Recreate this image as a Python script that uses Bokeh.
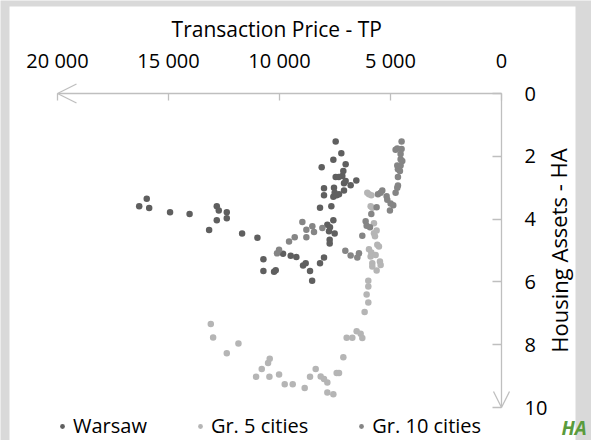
from bokeh.plotting import figure
from bokeh.models import (Range1d, FixedTicker, Legend, LegendItem, Label,
                          Arrow, OpenHead, ColumnDataSource, BoxAnnotation)
from bokeh.embed import file_html
from bokeh.resources import INLINE

# ---------------- data ----------------
warsaw_tp = [15980, 16320, 15870, 14930, 14050, 12825, 12735, 12375, 12375, 12825,
             13170, 11685, 10995, 10725, 10725, 10245, 10170, 9840, 9495, 9240,
             8940, 8820, 8625, 8530, 8175, 7995, 7740, 7740, 7770, 7515,
             7575, 7845, 7725, 7665, 8175, 7995, 7995, 7575, 7515, 7425,
             7320, 7095, 7545, 7095, 6795, 6540, 7020, 7170, 7470, 7335,
             7125, 7020, 8100, 7575, 7215, 7470]
warsaw_ha = [3.35, 3.59, 3.65, 3.78, 3.84, 3.59, 3.73, 3.78, 3.97, 4.04,
             4.35, 4.46, 4.59, 5.28, 5.65, 5.68, 5.63, 5.10, 5.17, 5.21,
             5.48, 5.41, 5.65, 5.96, 5.41, 5.22, 4.66, 4.78, 4.39, 4.46,
             4.04, 4.18, 4.26, 3.59, 3.64, 3.02, 3.24, 3.29, 3.16, 3.24,
             3.21, 3.09, 3.00, 2.86, 2.92, 2.77, 2.79, 2.63, 2.66, 2.66,
             2.47, 2.25, 2.35, 2.11, 1.90, 1.53]

gr5_tp = [6045, 5970, 5865, 5895, 5820, 5745, 5625, 5745, 5700, 5970,
          5865, 5895, 5595, 5520, 5670, 5820, 5820, 5625, 5475, 5445,
          6000, 6000, 6075, 6000, 6165, 6525, 6345, 6270, 6975, 6720,
          7125, 7320, 7425, 7845, 7995, 8145, 8370, 8625, 8865, 7845,
          7575, 9405, 9765, 10020, 10455, 11055, 10800, 10515, 10440, 12375,
          11850, 12990, 13095]
gr5_ha = [3.16, 3.21, 3.24, 3.59, 3.64, 4.13, 4.36, 4.45, 4.55, 4.96,
          5.06, 5.19, 4.82, 4.87, 5.14, 5.41, 5.51, 5.64, 5.35, 5.46,
          5.96, 6.15, 6.40, 6.66, 6.96, 7.57, 7.65, 7.79, 7.78, 7.78,
          8.40, 8.90, 8.90, 9.20, 9.09, 9.01, 8.77, 9.02, 9.38, 9.52,
          9.58, 9.26, 9.26, 8.95, 9.02, 9.02, 8.77, 8.58, 8.45, 8.27,
          7.96, 7.77, 7.34]

gr10_tp = [4500, 4695, 4770, 4500, 4545, 4545, 4470, 4695, 4545, 4620,
           4665, 4575, 4665, 4665, 4695, 4770, 5370, 5565, 5445, 5175,
           5145, 4995, 4875, 5025, 5625, 5865, 6120, 6075, 5925, 6270,
           7035, 6795, 6495, 6420, 8070, 8970, 8790, 8520, 8445, 8790,
           9315, 9570, 10020, 10110]
gr10_ha = [1.53, 1.75, 1.79, 1.77, 1.93, 2.09, 2.15, 2.29, 2.29, 2.36,
           2.41, 2.47, 2.66, 2.93, 3.00, 3.16, 3.09, 3.21, 3.16, 3.27,
           3.38, 3.50, 3.56, 3.73, 3.62, 3.84, 4.07, 4.21, 4.26, 4.53,
           5.01, 5.16, 5.22, 5.09, 4.28, 4.09, 4.34, 4.23, 4.41, 4.58,
           4.58, 4.71, 4.98, 5.09]

series_names = ["Warsaw", "Gr. 5 cities", "Gr. 10 cities"]
series_colors = ["#5f5f5f", "#b5b5b5", "#858585"]

x_max, y_max = 20000, 10
x_ticks = [0, 5000, 10000, 15000, 20000]
x_tick_labels = ["0", "5 000", "10 000", "15 000", "20 000"]
y_ticks = [0, 2, 4, 6, 8, 10]
x_title = "Transaction Price  - TP"
y_title = "Housing Assets - HA"
corner_text = "HA"

FONT = "Open Sans"
AX = "#bfbfbf"
GREY = "#d9d9d9"

W, H = 591, 440
# frame covers the whole figure; axes are drawn at fixed data locations
X_LEFT_PX, X_RIGHT_PX = 57, 501      # pixel positions of 20000 and 0
Y_TOP_PX, Y_BOT_PX = 93, 407         # pixel positions of 0 and 10
ux = x_max / (X_RIGHT_PX - X_LEFT_PX)    # data units per pixel
uy = y_max / (Y_BOT_PX - Y_TOP_PX)


def xpx(px):
    return x_max - (px - X_LEFT_PX) * ux


def ypx(py):
    return (py - Y_TOP_PX) * uy


p = figure(width=W, height=H, output_backend="svg", toolbar_location=None,
           x_axis_location="above", y_axis_location="right",
           x_range=Range1d(xpx(0), xpx(W)), y_range=Range1d(ypx(H), ypx(0)),
           min_border=0, min_border_left=0, min_border_right=0,
           min_border_top=0, min_border_bottom=0)
p.outline_line_color = None
p.background_fill_color = GREY
p.border_fill_color = GREY
p.xgrid.visible = False
p.ygrid.visible = False

# white chart panel
p.add_layout(BoxAnnotation(left=xpx(9), right=xpx(575), top=ypx(6),
                           bottom=ypx(H + 5), fill_color="white",
                           fill_alpha=1, line_color=None, level="underlay"))

xa = p.xaxis[0]
xa.ticker = FixedTicker(ticks=x_ticks)
xa.major_label_overrides = {t: l for t, l in zip(x_ticks, x_tick_labels)}
xa.fixed_location = 0
ya = p.yaxis[0]
ya.ticker = FixedTicker(ticks=y_ticks)
ya.fixed_location = 0

for ax in (xa, ya):
    ax.axis_line_color = None
    ax.major_tick_line_color = AX
    ax.major_tick_line_width = 1.3
    ax.major_tick_out = 0
    ax.minor_tick_line_color = None
    ax.major_label_text_font = FONT
    ax.major_label_text_font_size = "20px"
    ax.major_label_text_color = "black"
xa.major_tick_in = 7
ya.major_tick_in = 9
xa.major_label_standoff = 20
ya.major_label_standoff = 23

# axis lines with open arrow heads
p.add_layout(Arrow(end=OpenHead(size=19, line_color=AX, line_width=1.3),
                   x_start=0, y_start=0, x_end=x_max, y_end=0,
                   line_color=AX, line_width=1.3))
p.add_layout(Arrow(end=OpenHead(size=16, line_color=AX, line_width=1.3),
                   x_start=0, y_start=0, x_end=0, y_end=y_max,
                   line_color=AX, line_width=1.3))

renderers = []
for name, xs, ys, col in zip(series_names, [warsaw_tp, gr5_tp, gr10_tp],
                             [warsaw_ha, gr5_ha, gr10_ha], series_colors):
    src = ColumnDataSource(dict(x=xs, y=ys))
    r = p.scatter("x", "y", source=src, size=6.5, fill_color=col,
                  line_color=None)
    renderers.append(r)

legend = Legend(items=[LegendItem(label=n, renderers=[r])
                       for n, r in zip(series_names, renderers)],
                orientation="horizontal", location=(56, 1),
                glyph_width=12, glyph_height=12, label_standoff=5,
                spacing=47, padding=0, margin=0,
                border_line_alpha=0, background_fill_alpha=0,
                label_text_font=FONT, label_text_font_size="20px",
                label_text_color="black")
p.add_layout(legend)

# axis titles
p.add_layout(Label(x=x_max / 2, y=ypx(28), text=x_title,
                   text_align="center", text_baseline="alphabetic",
                   text_font=FONT, text_font_size="21px", text_color="black"))
p.add_layout(Label(x=xpx(558), y=y_max / 2, text=y_title,
                   angle=1.5708, text_align="center", text_baseline="alphabetic",
                   text_font=FONT, text_font_size="22px", text_color="black"))
p.add_layout(Label(x=xpx(561), y=ypx(427), text=corner_text, text_align="left",
                   text_baseline="alphabetic", text_font=FONT,
                   text_font_size="19px", text_font_style="bold italic",
                   text_color="#5a9b3c"))

open("out.html", "w").write(file_html(p, INLINE))
